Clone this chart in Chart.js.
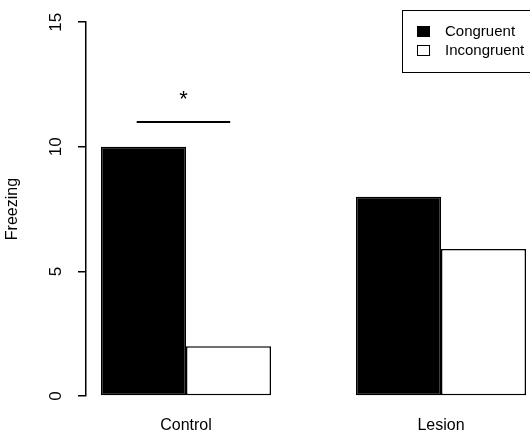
<!DOCTYPE html>
<html>
<head>
<meta charset="utf-8">
<title>Freezing</title>
<script src="https://cdn.jsdelivr.net/npm/chart.js"></script>
<style>
  body { margin: 0; background: #fff; }
  #wrap { width: 530px; height: 436px; }
</style>
</head>
<body>
<div id="wrap"><canvas id="freezeChart" width="530" height="436"></canvas></div>
<script>
// data
const groups = ['Control', 'Lesion'];
const seriesNames = ['Congruent', 'Incongruent'];
const congruent = [10, 8];
const incongruent = [2, 5.9];
const yTicks = [0, 5, 10, 15];

// where the groups sit on the x scale (barplot units, each bar is 1 wide)
const groupPos = [2, 5];
// significance bar over Control
const sigBar = { from: 1.42, to: 2.52, y: 11, starY: 12, label: '*' };

const FONT = '"Liberation Sans", Arial, sans-serif';
Chart.defaults.font.family = FONT;
Chart.defaults.color = '#000';

// star, bracket line and the boxed legend, drawn on top of the bars
const extras = {
    id: 'extras',
    afterDatasetsDraw(chart) {
        const { ctx, scales: { x, y } } = chart;
        ctx.save();
        ctx.strokeStyle = '#000';
        ctx.fillStyle = '#000';

        // bracket + star
        const ly = y.getPixelForValue(sigBar.y);
        ctx.lineWidth = 2;
        ctx.beginPath();
        ctx.moveTo(x.getPixelForValue(sigBar.from), ly);
        ctx.lineTo(x.getPixelForValue(sigBar.to), ly);
        ctx.stroke();
        ctx.font = '22px ' + FONT;
        ctx.textAlign = 'center';
        ctx.textBaseline = 'alphabetic';
        ctx.fillText(sigBar.label, x.getPixelForValue((sigBar.from + sigBar.to) / 2),
                     y.getPixelForValue(sigBar.starY) + 9);

        // legend box (runs off the right edge like the original)
        ctx.lineWidth = 1;
        ctx.strokeRect(402.5, 10.5, 140, 62);
        ctx.font = '15px ' + FONT;
        ctx.textAlign = 'left';
        ctx.textBaseline = 'middle';
        chart.data.datasets.forEach((ds, i) => {
            const cy = 32 + i * 19;
            ctx.fillStyle = ds.backgroundColor;
            ctx.fillRect(417.5, cy - 5.5, 12, 10);
            ctx.strokeRect(417.5, cy - 5.5, 12, 10);
            ctx.fillStyle = '#000';
            ctx.fillText(ds.label, 445, cy);
        });
        ctx.restore();
    }
};

const ctx = document.getElementById('freezeChart').getContext('2d');
const freezeChart = new Chart(ctx, {
    type: 'bar',
    data: {
        datasets: [{
            label: seriesNames[0],
            data: congruent.map((v, i) => ({ x: groupPos[i], y: v })),
            backgroundColor: '#000',
            borderColor: '#000',
            borderWidth: 1.5,
            borderSkipped: false
        }, {
            label: seriesNames[1],
            data: incongruent.map((v, i) => ({ x: groupPos[i], y: v })),
            backgroundColor: '#fff',
            borderColor: '#000',
            borderWidth: 1.5,
            borderSkipped: false
        }]
    },
    options: {
        responsive: false,
        animation: false,
        devicePixelRatio: 1,
        categoryPercentage: 2 / 3,
        barPercentage: 1,
        layout: { padding: { top: 22, right: 0, bottom: 0, left: 0 } },
        plugins: {
            legend: { display: false },
            tooltip: { enabled: false }
        },
        scales: {
            x: {
                type: 'linear',
                offset: false,
                min: 0.8235,
                max: 6.047,
                grid: { display: false, drawTicks: false },
                border: { display: false },
                afterBuildTicks: s => { s.ticks = groupPos.map(v => ({ value: v })); },
                afterFit: s => { s.height = 40; },
                ticks: {
                    padding: 20,
                    font: { size: 16 },
                    callback: (v, i) => groups[i]
                }
            },
            y: {
                min: 0,
                max: 15,
                afterBuildTicks: s => { s.ticks = yTicks.map(v => ({ value: v })); },
                afterFit: s => { s.width = 86; },
                grid: { display: true, drawOnChartArea: false, drawTicks: true, tickLength: 8, color: '#000', lineWidth: 1.5 },
                border: { display: true, color: '#000', width: 1.5 },
                title: {
                    display: true,
                    text: 'Freezing',
                    font: { size: 16 },
                    padding: { top: 3, bottom: 0 }
                },
                ticks: {
                    minRotation: 90,
                    maxRotation: 90,
                    crossAlign: 'center',
                    padding: 12,
                    font: { size: 17 }
                }
            }
        }
    },
    plugins: [extras]
});
</script>
</body>
</html>
